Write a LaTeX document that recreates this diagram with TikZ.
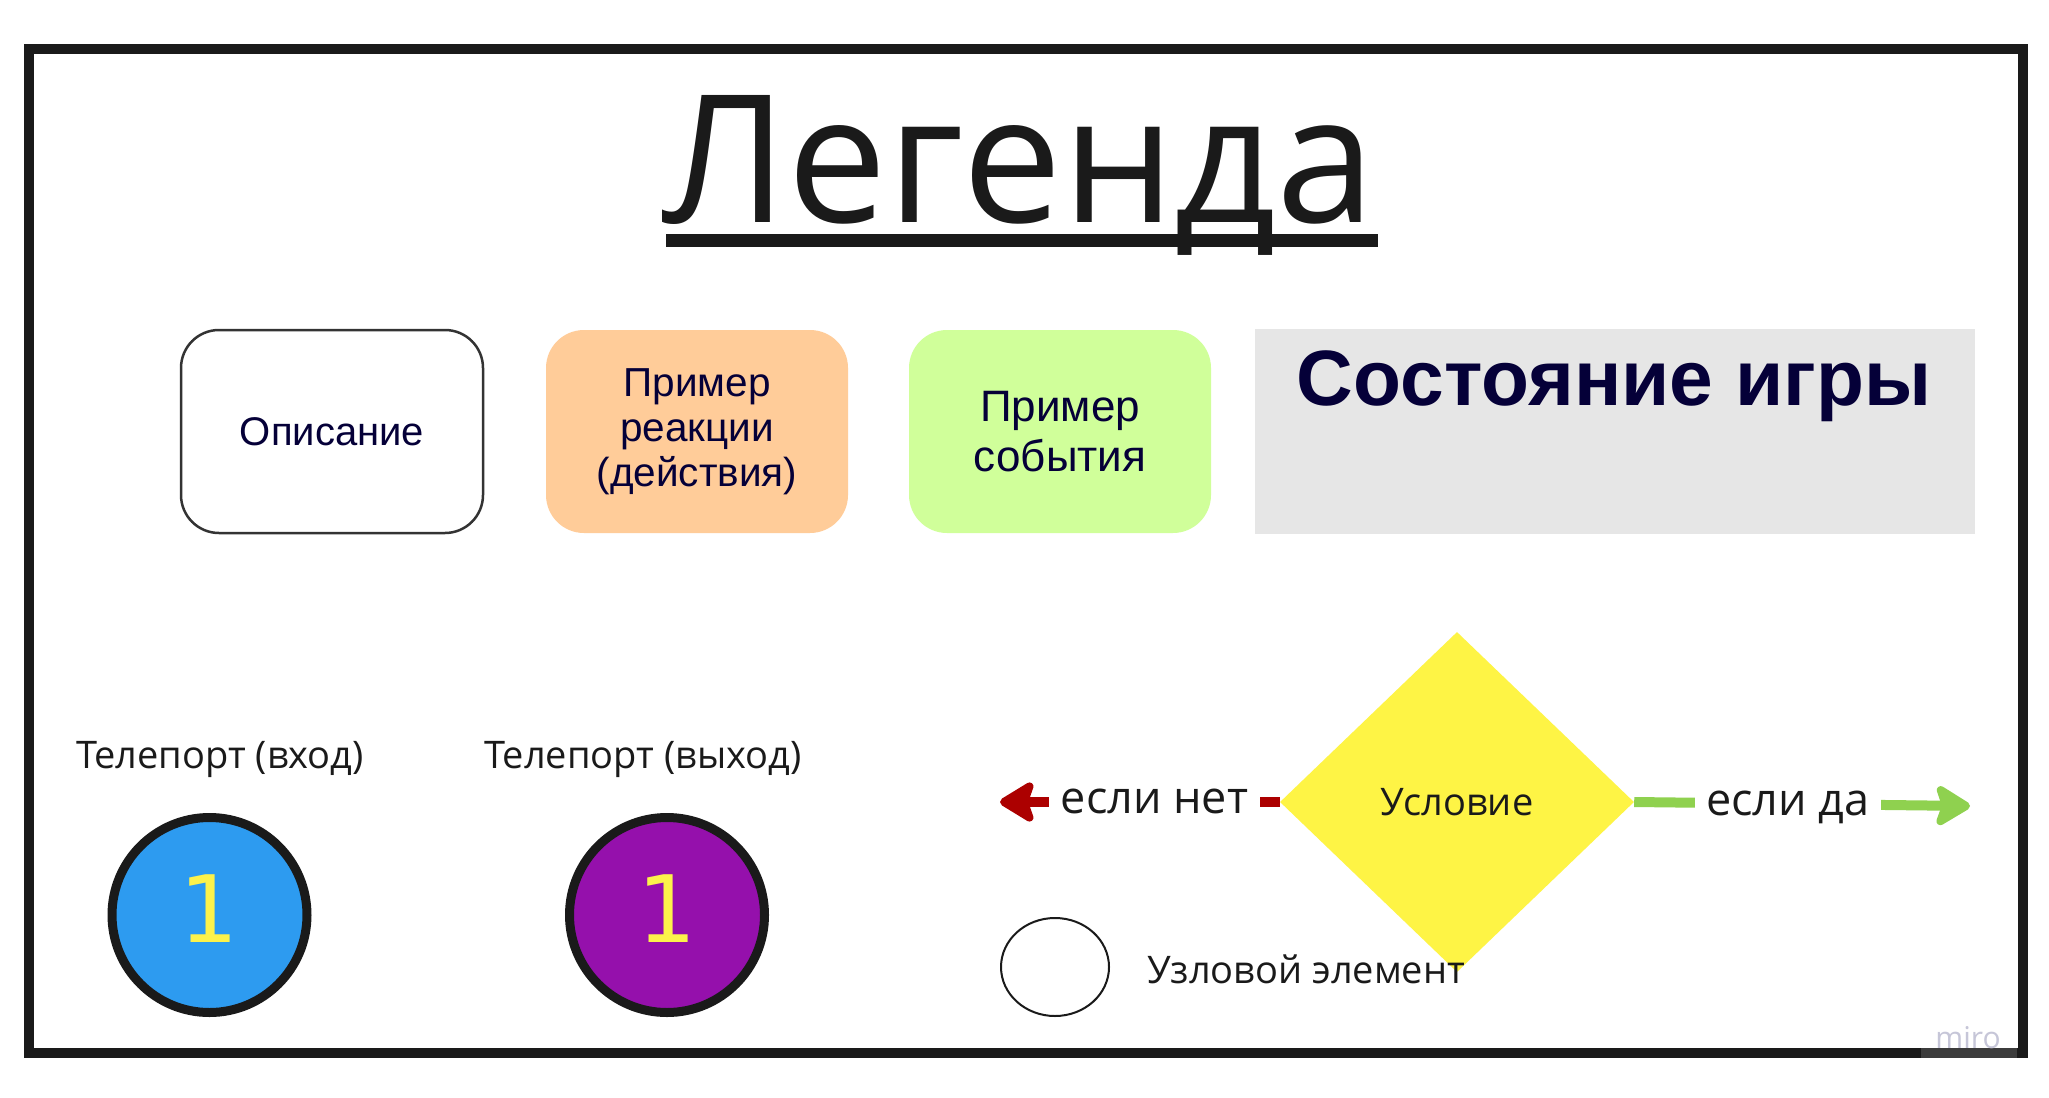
\documentclass[tikz,border=0pt]{standalone}
\usepackage{fontspec}
\setmainfont{Open Sans}
\newfontfamily\boxfont{Liberation Sans}
\newfontfamily\digitfont{DejaVu Sans}
\usetikzlibrary{shapes.geometric,arrows.meta}
\definecolor{frame}{HTML}{1A1A1A}
\definecolor{outline}{HTML}{333333}
\definecolor{navy}{HTML}{050038}
\definecolor{peach}{HTML}{FFCC99}
\definecolor{lime}{HTML}{D0FF9A}
\definecolor{stategray}{HTML}{E6E6E6}
\definecolor{condyellow}{HTML}{FEF445}
\definecolor{nored}{HTML}{AC0000}
\definecolor{yesgreen}{HTML}{8FD14F}
\definecolor{tpblue}{HTML}{2D9BF0}
\definecolor{tppurple}{HTML}{9510AC}
\definecolor{digit}{HTML}{FCF24B}
\definecolor{mirogray}{HTML}{C6C6D8}
\begin{document}
\begin{tikzpicture}[x=1pt,y=-1pt,
  legbox/.style={rounded corners=38pt, minimum width=302pt, minimum height=203pt,
    inner sep=0pt, align=center, text=navy, font=\boxfont\fontsize{40}{45}\selectfont},
  plain/.style={inner sep=0pt, text=frame, font=\fontsize{38}{40}\selectfont},
  lbl/.style={fill=white, text=frame, font=\fontsize{45}{48}\selectfont,
    inner xsep=11.5pt, inner ysep=4pt, text height=23pt, text depth=0pt},
  teleport/.style={circle, draw=frame, line width=9pt, minimum size=195pt, inner sep=0pt,
    text=digit, text depth=12pt, font=\digitfont\fontsize{93}{100}\selectfont},
  branch/.style={line width=10pt, -{Stealth[length=40pt,width=48pt,inset=8pt,round]}}
]
\useasboundingbox (0,0) rectangle (2049,1097);
\fill[white] (0,0) rectangle (2049,1097);
\draw[frame, line width=10pt] (28.5,49) rectangle (2022.5,1052.5);

% title
\node[inner sep=0pt, anchor=base, text=frame, font=\fontsize{178}{200}\selectfont] (title) at (1019,222) {Легенда};
\fill[frame] (666,234) rectangle (1378,247);

% boxes
\node[legbox, draw=outline, line width=2.5pt, fill=white] (desc) at (332,431.5) {Описание};
\node[legbox, fill=peach, font=\boxfont\fontsize{40.5}{45}\selectfont] (react) at (697,431.5) {Пример\\реакции\\(действия)};
\node[legbox, fill=lime, font=\boxfont\fontsize{44}{50}\selectfont] (event) at (1060,431.5) {Пример\\события};
\node[fill=stategray, minimum width=720.5pt, minimum height=205pt, inner sep=0pt] (state) at (1615,431.5) {};
\node[inner sep=0pt, anchor=base, text=navy, font=\boxfont\bfseries\fontsize{78.5}{80}\selectfont] (statetxt) at (1614,405) {Состояние игры};

% teleports
\node[plain, anchor=base] (tpinlbl) at (220,768) {Телепорт (вход)};
\node[plain, anchor=base] (tpoutlbl) at (643,768) {Телепорт (выход)};
\node[teleport, fill=tpblue] (tpin) at (209.5,915) {1};
\node[teleport, fill=tppurple] (tpout) at (667,915) {1};

% condition
\node[diamond, fill=condyellow, minimum width=354pt, minimum height=340pt, inner sep=0pt,
  text=frame, font=\fontsize{38}{40}\selectfont] (cond) at (1457,802) {Условие};
\coordinate (noEnd) at (1000,802);
\coordinate (yesEnd) at (1970,806);
\draw[branch, nored] (cond.west) -- node[pos=0.448, lbl] (nolbl) {если нет} (noEnd);
\draw[branch, yesgreen] (cond.east) -- node[pos=0.4575, lbl] (yeslbl) {если да} (yesEnd);

% junction
\node[ellipse, draw=frame, line width=2pt, minimum width=108pt, minimum height=98pt, inner sep=0pt] (junc) at (1055,967) {};
\node[plain, anchor=base west] (junclbl) at (1147,983) {Узловой элемент};

% watermark
\fill[white, opacity=0.15] (1921,1020) rectangle (2017,1058);
\node[inner sep=0pt, anchor=base, text=mirogray, font=\fontsize{30}{30}\selectfont] (miro) at (1968,1048) {miro};
\end{tikzpicture}
\end{document}
